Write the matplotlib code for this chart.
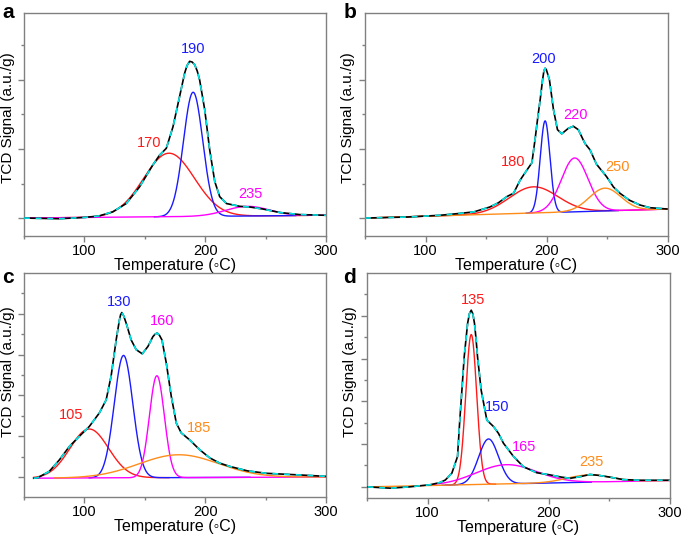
import numpy as np
import matplotlib
matplotlib.use("Agg")
import matplotlib.pyplot as plt
from matplotlib.ticker import FixedLocator

plt.rcParams['font.family'] = ['Liberation Sans', 'DejaVu Sans']

# ---------------- data ----------------
# Panel a
a_env_T = [50, 79, 101, 112, 123.5, 134.6, 145.6, 156.7, 162.2, 167.8, 173.3, 178.8, 183, 185, 187.1,
           189.2, 191.3, 193.4, 195.4, 199.6, 203.7, 207.9, 212, 217.6, 228.6, 236.9, 248, 261.8,
           278.4, 300]
a_env_y = [0, -0.01, 0.01, 0.03, 0.09, 0.21, 0.45, 0.77, 0.91, 1.01, 1.32, 1.76, 2.10, 2.21, 2.27,
           2.26, 2.22, 2.13, 2.0, 1.57, 0.99, 0.53, 0.31, 0.21, 0.17, 0.16, 0.13, 0.08,
           0.05, 0.04]
a_centers = [170, 190, 235]
a_heights = [0.92, 1.80, 0.14]
a_sigmas = [21, 8, 18]
a_lo = [50, 158, 50]
a_hi = [285, 275, 300]
a_labels = ['170', '190', '235']
a_lab_T = [153.7, 190, 237.8]
a_lab_y = [1.09, 2.45, 0.35]
a_base = [0.0, 0.04]

# Panel b
b_env_T = [50, 85, 112, 130, 140, 153, 160, 167, 172.6, 178, 183, 187.7, 190.4, 192.5, 194.5, 196.5,
           197.6, 198.6, 199.6, 200.5, 202.2, 205.5, 208.8, 212.3, 217.8, 221.9, 226, 231.5, 235.6,
           241, 249.3, 255, 260.3, 268, 276.7, 285, 300]
b_env_y = [0, 0.015, 0.04, 0.07, 0.09, 0.16, 0.22, 0.31, 0.36, 0.55, 0.68, 0.80, 1.15, 1.45, 1.71, 2.0,
           2.13, 2.17, 2.15, 2.1, 2.0, 1.57, 1.28, 1.22, 1.30, 1.33, 1.28, 1.08, 0.99,
           0.78, 0.60, 0.45, 0.36, 0.26, 0.19, 0.15, 0.13]
b_centers = [189, 198.6, 223, 248]
b_heights = [0.38, 1.33, 0.78, 0.33]
b_sigmas = [20, 4.0, 11, 13]
b_lo = [50, 183, 186, 50]
b_hi = [290, 259, 300, 300]
b_labels = ['180', '200', '220', '250']
b_lab_T = [172.6, 197.3, 223.3, 258]
b_lab_y = [0.81, 2.30, 1.49, 0.74]
b_base = [0.0, 0.13]

# Panel c
c_env_T = [58, 61.3, 71, 79.3, 87.6, 95.9, 104.1, 112.4, 118, 122.1, 126.3, 129, 130, 131, 132.5,
           134.6, 138.7, 142.9, 147.9, 152.6, 156.7, 158.5, 160.3, 162.2, 164.2, 167.8, 171.9,
           176.1, 180.2, 187.1, 195.4, 203.7, 212, 220.3, 235, 250.8, 278.4, 300]
c_env_y = [-0.03, -0.02, 0.14, 0.42, 0.75, 1.0, 1.24, 1.57, 1.89, 2.47, 3.36, 3.85, 3.98, 4.03, 3.95,
           3.77, 3.36, 3.12, 3.02, 3.2, 3.44, 3.5, 3.53, 3.47, 3.36, 2.79, 1.98,
           1.32, 1.08, 0.91, 0.67, 0.47, 0.34, 0.26, 0.15, 0.09, 0.05, 0.016]
c_centers = [104, 132.4, 160, 178]
c_heights = [1.2, 3.0, 2.5, 0.56]
c_sigmas = [16, 7.7, 6.2, 33]
c_lo = [58, 104, 58, 75]
c_hi = [170, 237, 300, 300]
c_labels = ['105', '130', '160', '185']
c_lab_T = [89, 129, 164.2, 194.6]
c_lab_y = [1.53, 4.29, 3.82, 1.19]
c_base = [-0.03, 0.0]

# Panel d
d_env_T = [50.5, 69, 85, 102.2, 110, 114.6, 120, 124.7, 126.4, 128.3, 130.2, 133, 134.5, 136, 137.3,
           138.7, 140, 141.2, 144.2, 148.9, 154.4, 158.5, 162.6, 170.9, 179.1, 190.1, 201.1, 210,
           217.6, 226, 234, 241, 250, 261.5, 275, 300]
d_env_y = [0, -0.03, 0.0, 0.05, 0.1, 0.16, 0.32, 0.71, 1.49, 2.26, 3.04, 3.82, 4.05, 4.13, 4.05,
           3.82, 3.45, 3.04, 2.26, 1.56, 1.41, 1.25, 1.02, 0.71, 0.47, 0.33, 0.28, 0.23,
           0.20, 0.24, 0.29, 0.27, 0.23, 0.17, 0.155, 0.155]
d_centers = [136, 150.3, 165, 233]
d_heights = [3.51, 1.06, 0.45, 0.17]
d_sigmas = [4.5, 8.2, 25, 18]
d_lo = [115, 112, 105, 50]
d_hi = [156, 235, 300, 300]
d_labels = ['135', '150', '165', '235']
d_lab_T = [137.1, 157.1, 180, 235.4]
d_lab_y = [4.37, 1.86, 0.93, 0.58]
d_base = [0.0, 0.15]

# ---------------- styling ----------------
RED, BLUE, MAG, ORA, CYAN = '#ff1a1a', '#1a1aff', '#ff00ff', '#ff8c1a', '#00e5e5'
SPINE = '#808080'
W, H = 685, 537

panels = [
    dict(name='a', env=(a_env_T, a_env_y), c=a_centers, h=a_heights, s=a_sigmas, lo=a_lo, hi=a_hi,
         labels=a_labels, lt=a_lab_T, ly=a_lab_y, base=a_base, colors=[RED, BLUE, MAG],
         rect=(24, 13, 326, 236), ylim=(-0.26, 2.97), major=[0, 1, 2], minor=[0.5, 1.5, 2.5],
         lab_xy=(2, 3), ylab=(15, 0.53)),
    dict(name='b', env=(b_env_T, b_env_y), c=b_centers, h=b_heights, s=b_sigmas, lo=b_lo, hi=b_hi,
         labels=b_labels, lt=b_lab_T, ly=b_lab_y, base=b_base, colors=[RED, BLUE, MAG, ORA],
         rect=(365, 13, 668, 236), ylim=(-0.26, 2.97), major=[0, 1, 2], minor=[0.5, 1.5, 2.5],
         lab_xy=(344, 3), ylab=(355, 0.53)),
    dict(name='c', env=(c_env_T, c_env_y), c=c_centers, h=c_heights, s=c_sigmas, lo=c_lo, hi=c_hi,
         labels=c_labels, lt=c_lab_T, ly=c_lab_y, base=c_base, colors=[RED, BLUE, MAG, ORA],
         rect=(24, 273, 326, 497), ylim=(-0.49, 5.0), major=[0, 1, 2, 3, 4],
         minor=[0.5, 1.5, 2.5, 3.5, 4.5], lab_xy=(2, 268), ylab=(15, 0.56)),
    dict(name='d', env=(d_env_T, d_env_y), c=d_centers, h=d_heights, s=d_sigmas, lo=d_lo, hi=d_hi,
         labels=d_labels, lt=d_lab_T, ly=d_lab_y, base=d_base, colors=[RED, BLUE, MAG, ORA],
         rect=(367, 273, 670, 498), ylim=(-0.26, 5.0), major=[0, 1, 2, 3, 4],
         minor=[0.5, 1.5, 2.5, 3.5, 4.5], lab_xy=(343, 268), ylab=(357, 0.56)),
]

fig = plt.figure(figsize=(W / 100, H / 100), dpi=100)

for p in panels:
    x0, y0, x1, y1 = p['rect']
    ax = fig.add_axes([x0 / W, 1 - y1 / H, (x1 - x0) / W, (y1 - y0) / H])
    b0, b1 = p['base']

    def baseline(T):
        return b0 + (b1 - b0) * (T - 50) / 250.0

    for c, h, s, lo, hi, col in zip(p['c'], p['h'], p['s'], p['lo'], p['hi'], p['colors']):
        T = np.linspace(lo, hi, 500)
        ax.plot(T, baseline(T) + h * np.exp(-(T - c) ** 2 / (2 * s ** 2)), color=col, lw=1.0,
                zorder=2)

    eT, ey = p['env']
    ax.plot(eT, ey, color='black', lw=1.2, zorder=3, solid_joinstyle='round')
    ax.plot(eT, ey, color=CYAN, lw=1.2, ls=(0, (3.5, 3.5)), zorder=4)

    for txt, tx, ty, col in zip(p['labels'], p['lt'], p['ly'], p['colors']):
        ax.text(tx, ty, txt, color=col, fontsize=10.5, ha='center', va='center')

    ax.set_xlim(50, 300)
    ax.set_ylim(*p['ylim'])
    ax.xaxis.set_major_locator(FixedLocator([100, 200, 300]))
    ax.xaxis.set_minor_locator(FixedLocator([50, 150, 250]))
    ax.yaxis.set_major_locator(FixedLocator(p['major']))
    ax.yaxis.set_minor_locator(FixedLocator(p['minor']))
    ax.set_yticklabels([])
    ax.tick_params(axis='both', which='major', direction='out', length=4, width=1, color=SPINE,
                   labelsize=10.5, pad=2)
    ax.tick_params(axis='both', which='minor', direction='out', length=2.5, width=1, color=SPINE)
    for sp in ax.spines.values():
        sp.set_color(SPINE)
        sp.set_linewidth(1.0)
    ax.set_xlabel('Temperature (\u25e6C)', fontsize=11.5, labelpad=0)
    ax.set_ylabel('TCD Signal (a.u./g)', fontsize=11)
    lxp, lyf = p['ylab']
    ax.yaxis.set_label_coords((lxp - x0) / (x1 - x0), lyf)

    lx, ly = p['lab_xy']
    fig.text(lx / W, 1 - ly / H, p['name'], fontsize=15, fontweight='bold', ha='left', va='top')

fig.savefig('out.png', dpi=100)
